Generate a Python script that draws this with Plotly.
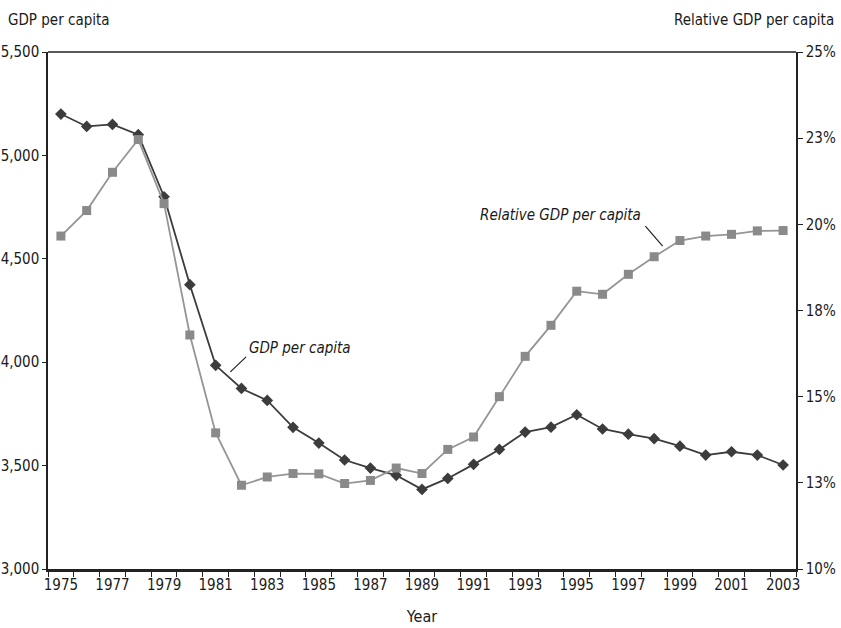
import plotly.graph_objects as go

years = list(range(1975, 2004))
gdp_per_capita = [5200, 5140, 5150, 5100, 4800, 4375, 3985, 3873, 3815, 3685,
                  3609, 3527, 3488, 3453, 3385, 3438, 3506, 3578, 3662, 3686,
                  3746, 3677, 3652, 3630, 3594, 3551, 3567, 3551, 3503]
relative_gdp = [19.66, 20.40, 21.51, 22.46, 20.60, 16.79, 13.95, 12.43, 12.67, 12.77,
                12.76, 12.48, 12.57, 12.93, 12.77, 13.47, 13.83, 15.00, 16.17, 17.07,
                18.06, 17.97, 18.55, 19.06, 19.53, 19.66, 19.71, 19.81, 19.82]
x_labels = list(range(1975, 2004, 2))
left_ticks = [3000, 3500, 4000, 4500, 5000, 5500]
right_ticks = [10, 12.5, 15, 17.5, 20, 22.5, 25]
right_text = ["10%", "13%", "15%", "18%", "20%", "23%", "25%"]

FONT = "DejaVu Sans Condensed, Liberation Sans Narrow, sans-serif"
DARK = "#3c3c3c"
GRAY = "#8a8a8a"
FS = 15

fig = go.Figure()
fig.add_trace(go.Scatter(
    x=years, y=relative_gdp, yaxis="y2", mode="lines+markers",
    line=dict(color="#959595", width=1.8),
    marker=dict(symbol="square", size=9, color=GRAY),
    name="Relative GDP per capita"))
fig.add_trace(go.Scatter(
    x=years, y=gdp_per_capita, mode="lines+markers",
    line=dict(color=DARK, width=1.8),
    marker=dict(symbol="diamond", size=9, color=DARK),
    name="GDP per capita"))

fig.update_layout(
    width=841, height=628,
    margin=dict(l=48, r=45, t=52, b=59),
    paper_bgcolor="white", plot_bgcolor="white",
    showlegend=False,
    font=dict(family=FONT, size=FS, color="#1a1a1a"),
    xaxis=dict(
        range=[1974.5, 2003.5], tickvals=x_labels, ticks="",
        showgrid=False, zeroline=False, automargin=False,
        showline=True, linecolor="#222", linewidth=2.5,
        minor=dict(ticks="outside", tick0=0.5, dtick=1, ticklen=5,
                   tickcolor="#222", tickwidth=1.2, showgrid=False),
        title=dict(text="Year", standoff=19, font=dict(size=FS + 1)),
        tickfont=dict(size=FS),
    ),
    yaxis=dict(
        range=[3000, 5500], tickvals=left_ticks, tickformat=",",
        ticks="outside", ticklen=4, tickcolor="#222",
        showgrid=False, zeroline=False, automargin=False,
        showline=True, linecolor="#222", linewidth=1.5,
        tickfont=dict(size=FS),
    ),
    yaxis2=dict(
        range=[10, 25], tickvals=right_ticks, ticktext=right_text,
        overlaying="y", side="right",
        ticks="outside", ticklen=5, tickcolor="#222",
        showgrid=False, zeroline=False, automargin=False,
        showline=True, linecolor="#222", linewidth=1.5,
        tickfont=dict(size=FS),
    ),
    shapes=[
        dict(type="line", xref="paper", yref="paper", x0=0, x1=1, y0=1, y1=1,
             line=dict(color="#222", width=1.5)),
        dict(type="line", xref="x", yref="y", x0=1981.57, y0=3953, x1=1982.18, y1=4026,
             line=dict(color="#222", width=1.2)),
        dict(type="line", xref="x", yref="y", x0=1997.66, y0=4658, x1=1998.33, y1=4561,
             line=dict(color="#222", width=1.2)),
    ],
    annotations=[
        dict(text="GDP per capita", xref="paper", yref="paper", x=-0.056, y=1.062,
             xanchor="left", yanchor="middle", showarrow=False, font=dict(size=FS)),
        dict(text="Relative GDP per capita", xref="paper", yref="paper", x=1.054, y=1.062,
             xanchor="right", yanchor="middle", showarrow=False, font=dict(size=FS)),
        dict(text="<i>GDP per capita</i>", xref="x", yref="y", x=1982.22, y=4068,
             xanchor="left", yanchor="middle", showarrow=False, font=dict(size=FS)),
        dict(text="<i>Relative GDP per capita</i>", xref="x", yref="y", x=1997.58, y=4711,
             xanchor="right", yanchor="middle", showarrow=False, font=dict(size=FS)),
    ],
)

fig.write_html("out.html", config={"displayModeBar": False},
               post_script="document.body.style.margin='0';document.body.style.overflow='hidden';")
